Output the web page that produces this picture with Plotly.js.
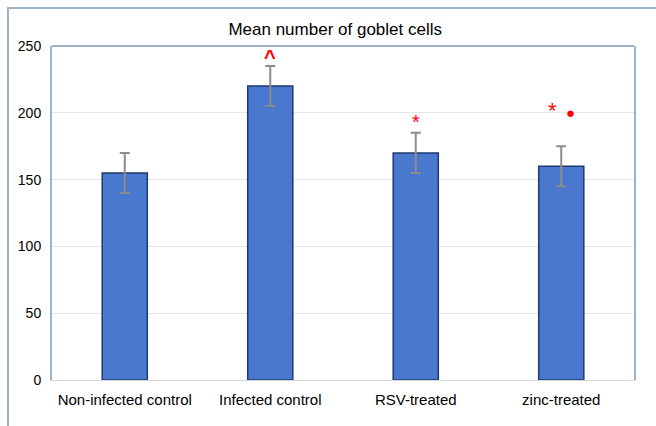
<!DOCTYPE html>
<html>
<head>
<meta charset="utf-8">
<script src="https://cdn.plot.ly/plotly-3.0.1.min.js"></script>
<style>
  html, body { margin: 0; padding: 0; background: #ffffff; }
  #wrap { position: relative; width: 656px; height: 426px; overflow: hidden; }
  #frame { position: absolute; left: 7px; top: 7px; width: 660px; height: 430px;
           border-left: 2px solid #9db3cc; border-top: 2px solid #9db3cc; pointer-events: none; }
  #chart { position: absolute; left: 0; top: 0; width: 656px; height: 426px; }
</style>
</head>
<body>
<div id="wrap">
  <div id="chart"></div>
  <div id="frame"></div>
</div>
<script>
const categories = ["Non-infected control", "Infected control", "RSV-treated", "zinc-treated"];
const meanValues = [155, 220, 170, 160];
const errorValues = [15, 15, 15, 15];
const yTicks = [0, 50, 100, 150, 200, 250];

// significance marks: category, y value, symbol
const markCategories = ["Infected control", "RSV-treated", "zinc-treated", "zinc-treated"];
const markValues = [242, 193, 202, 200];
const markTexts = ["^", "*", "*", "●"];
const markShifts = [0, 0, -9, 9];
const markSizes = [20, 20, 22, 15];
const markBold = [true, false, false, false];

const trace = {
  type: "bar",
  x: categories,
  y: meanValues,
  marker: { color: "#4a78cf", line: { color: "#1f3a6e", width: 1.5 } },
  error_y: { type: "data", array: errorValues, visible: true, color: "#8c8c8c", thickness: 2, width: 5 },
  hoverinfo: "skip"
};

const annotations = markTexts.map((t, i) => ({
  x: markCategories[i], y: markValues[i], xref: "x", yref: "y",
  text: markBold[i] ? "<b>" + t + "</b>" : t, showarrow: false, xshift: markShifts[i],
  font: { color: "#ff0000", size: markSizes[i], family: "Liberation Sans, Arial, sans-serif" },
  yanchor: "middle"
}));

const layout = {
  width: 656, height: 426,
  margin: { l: 52, r: 22, t: 46, b: 46 },
  paper_bgcolor: "#ffffff", plot_bgcolor: "#ffffff",
  font: { family: "Liberation Sans, Arial, sans-serif", color: "#000000", size: 14 },
  title: { text: "Mean number of goblet cells", font: { size: 17, color: "#000000" },
           x: 0.511, xanchor: "center", y: 0.932, yanchor: "middle" },
  bargap: 0.69,
  showlegend: false,
  xaxis: { type: "category", showgrid: false, showline: true, linecolor: "#d9d9d9", linewidth: 1,
           ticks: "", tickfont: { size: 15 }, ticklabelstandoff: 6, fixedrange: true },
  yaxis: { range: [0, 250], tickvals: yTicks, showgrid: true, gridcolor: "#e6e6e6", gridwidth: 1,
           zeroline: false, showline: true, mirror: true, linecolor: "#9db3cc", linewidth: 2,
           ticks: "", tickfont: { size: 14 }, ticklabelstandoff: 6, fixedrange: true },
  shapes: [{ type: "line", xref: "paper", yref: "paper", x0: 0, x1: 1, y0: 1, y1: 1,
             line: { color: "#9db3cc", width: 2 } }],
  annotations: annotations
};

Plotly.newPlot("chart", [trace], layout, { displayModeBar: false, staticPlot: true });
</script>
</body>
</html>
